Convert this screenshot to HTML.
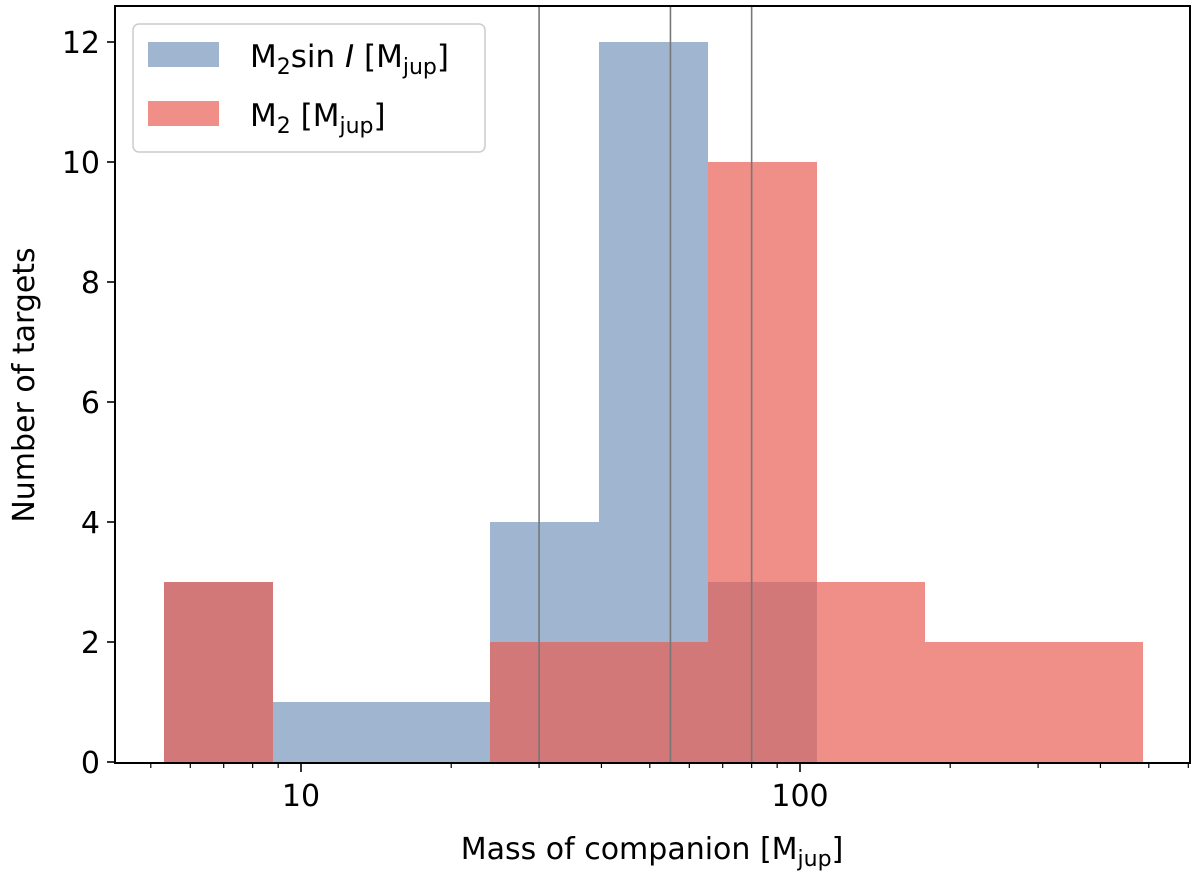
<!DOCTYPE html>
<html><head><meta charset="utf-8"><style>
body{margin:0;background:#fff;}
svg{display:block;font-family:"DejaVu Sans","Liberation Sans",sans-serif;}
</style></head><body>
<svg id="chart" width="1200" height="873">
<g id="bars" shape-rendering="crispEdges"></g>
<g id="vlines"></g>
<rect x="115" y="6" width="1075" height="757" fill="none" stroke="#000" stroke-width="2"/>
<g id="ticks"></g>
<text x="652" y="859" font-size="30" text-anchor="middle">Mass of companion [M<tspan font-size="22" dy="7">jup</tspan><tspan dy="-7">]</tspan></text>
<text transform="translate(34,385) rotate(-90)" font-size="30" text-anchor="middle">Number of targets</text>
<g>
<rect x="133" y="24" width="352" height="128" rx="6" fill="#fff" fill-opacity="0.8" stroke="#ccc" stroke-width="1.5"/>
<rect x="148" y="42" width="71" height="25" fill="#a0b5d0"/>
<text x="250" y="67" font-size="31">M<tspan font-size="22" dy="7">2</tspan><tspan dy="-7">sin</tspan><tspan font-style="italic"> I</tspan> [M<tspan font-size="22" dy="7">jup</tspan><tspan dy="-7">]</tspan></text>
<rect x="148" y="101" width="71" height="25" fill="#ef8f87"/>
<text x="250" y="126" font-size="31">M<tspan font-size="22" dy="7">2</tspan><tspan dy="-7"> [M</tspan><tspan font-size="22" dy="7">jup</tspan><tspan dy="-7">]</tspan></text>
</g>
</svg>
<script>
const binStartLog = 0.7255;
const binStepLog = 0.218;
const blueCounts = [3, 1, 1, 4, 12, 3, 0, 0, 0];
const redCounts = [3, 0, 0, 2, 2, 10, 3, 2, 2];
const refLines = [30, 55, 80];
const yTicks = [0, 2, 4, 6, 8, 10, 12];
const xMajor = [10, 100];
const xMinor = [5, 6, 7, 8, 9, 20, 30, 40, 50, 60, 70, 80, 90, 200, 300, 400, 500, 600];
const NS = "http://www.w3.org/2000/svg";
const xl = l => 301 + (l - 1) * 499;
const x = v => xl(Math.log10(v));
const y = c => 762 - c * 60;
function mk(tag, attrs, parent){const e=document.createElementNS(NS,tag);for(const k in attrs)e.setAttribute(k,attrs[k]);parent.appendChild(e);return e;}
const bars=document.getElementById('bars');
function drawBars(counts, fill, op, prefix){
  counts.forEach((c,i)=>{ if(!c) return;
    const x0=Math.round(xl(binStartLog+i*binStepLog)), x1=Math.round(xl(binStartLog+(i+1)*binStepLog));
    const r=mk('rect',{x:x0,y:Math.round(y(c)),width:x1-x0,height:Math.round(y(0)-y(c)),fill:fill,'fill-opacity':op},bars);
    
    
  });
}
drawBars(blueCounts,'#a0b5d0',1,'bar-msini-');
drawBars(redCounts,'#e85e52',0.695,'bar-m2-');
const vl=document.getElementById('vlines');
refLines.forEach(v=>{
  const l=mk('line',{x1:x(v),x2:x(v),y1:6,y2:763,stroke:'#777','stroke-width':1.6},vl);
  
  
});
const t=document.getElementById('ticks');
yTicks.forEach(v=>{
  mk('line',{x1:107,x2:115,y1:y(v),y2:y(v),stroke:'#000','stroke-width':1.6},t);
  const tx=mk('text',{x:100,y:y(v)+11,'font-size':30,'text-anchor':'end'},t);
  tx.textContent=v;
  
  
});
xMajor.forEach(v=>{
  mk('line',{x1:x(v),x2:x(v),y1:763,y2:772,stroke:'#000','stroke-width':1.6},t);
  const tx=mk('text',{x:x(v),y:806,'font-size':30,'text-anchor':'middle'},t);
  tx.textContent=v;
  
  
});
xMinor.forEach(v=>{
  mk('line',{x1:x(v),x2:x(v),y1:763,y2:768,stroke:'#000','stroke-width':1.2},t);
});
</script>
</body></html>
